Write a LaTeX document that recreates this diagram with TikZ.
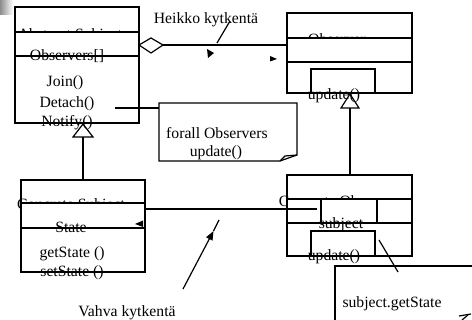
\documentclass[tikz,border=0pt]{standalone}
\usepackage{fontspec}
\setmainfont{Liberation Serif}
\usetikzlibrary{arrows.meta}
\begin{document}
\begin{tikzpicture}[x=1pt,y=-1pt,
  lbl/.style={inner sep=0pt, anchor=base, font=\fontsize{15.7}{18}\selectfont},
  box/.style={draw, line width=1.2pt},
  wbox/.style={draw, fill=white, line width=1.2pt},
  ln/.style={line width=1.2pt},
  tip/.style={fill=black}]
\useasboundingbox (0,0) rectangle (472,320);
\clip (0,0) rectangle (472,320);
\shade[left color=black!45, right color=white] (0,0) rectangle (13,15);

% Abstract Subject
\draw[box] (15,7) rectangle (139,32);
\node[lbl] (asname) at (70,39.5) {Abstract Subject};
\draw[wbox] (15,32) rectangle (139,56);
\draw[wbox] (15,56) rectangle (139,123);
\node[lbl] (asobs) at (67,61) {Observers[]};
\node[lbl] (asjoin) at (65,87) {Join()};
\node[lbl] (asdet) at (67,108) {Detach()};
\node[lbl] (asnot) at (67,127) {Notify()};

% Observer
\draw[box] (287,13) rectangle (412,38);
\node[lbl] (obname) at (337,45) {Observer};
\draw[wbox] (287,38) rectangle (412,62);
\draw[wbox] (287,62) rectangle (412,93);
\draw[box] (311,69) rectangle (375,93);
\node[lbl] (obupd) at (334,100) {update()};

% Concrete Subject
\draw[box] (21,180) rectangle (145,203);
\node[lbl] (csname) at (71,210) {Concrete Subject};
\draw[wbox] (21,203) rectangle (145,228);
\draw[wbox] (21,228) rectangle (145,272);
\node[lbl] (csstate) at (71,233) {State};
\node[lbl] (csget) at (72,258) {getState ()};
\node[lbl] (csset) at (72,277) {setState ()};
\fill[tip] (135,224) -- (143,220.5) -- (143,227) -- cycle;

% Concrete Observer
\draw[box] (287,175) rectangle (412,199);
\node[lbl] (coname) at (338,206.5) {Concrete Observer};
\draw[wbox] (287,199) rectangle (412,223);
\draw[wbox] (287,223) rectangle (412,256);
\draw[box] (321,199) rectangle (377,223);
\draw[box] (311,231) rectangle (375,256);
\node[lbl] (cosub) at (341,229) {subject};
\node[lbl] (coupd) at (334,261) {update()};

% note 1
\coordinate (n1a) at (159,103);
\draw[ln] (n1a) -- (297,103) -- (297,155) -- (280,161) -- (159,161) -- cycle;
\draw[ln] (280,161) -- (285,156) -- (297,155);
\node[lbl] (n1t1) at (217,139) {forall Observers};
\node[lbl] (n1t2) at (216,157) {update()};

% note 2
\draw[ln] (335,330) -- (335,266) -- (480,266);
\node[lbl] (n2t) at (392,307.5) {subject.getState};
\draw[ln] (459,316) -- (471,314);
\draw[ln] (468,315) -- (462,320);

% inheritance
\draw[ln] (83,124) -- (73,137) -- (93,137) -- cycle;
\draw[ln] (83,137) -- (83,180);
\draw[ln] (350,94) -- (341,108) -- (359,108) -- cycle;
\draw[ln] (350,108) -- (350,175);

% aggregation
\coordinate (dl) at (139,45);
\coordinate (dr) at (163,45);
\draw[ln] (dl) -- (151,38) -- (dr) -- (151,53) -- cycle;
\coordinate (obl) at (287,45);
\draw[ln] (dr) -- (obl);
\fill[tip] (207,49) -- (214,53) -- (208,58) -- cycle;
\fill[tip] (270,56) -- (277,59) -- (270,61.5) -- cycle;

% Heikko label
\node[lbl] (heikko) at (206,24) {Heikko kytkentä};
\coordinate (hp1) at (230,21);
\coordinate (hp2) at (217,43);
\draw[ln] (hp1) -- (hp2);

% Detach to note
\coordinate (detr) at (115,108);
\coordinate (n1l) at (159,108);
\draw[ln] (detr) -- (n1l);

% Concrete subject to observer
\coordinate (csr) at (145,209);
\coordinate (coin) at (317,209);
\draw[ln] (csr) -- (coin);

% update to note 2
\coordinate (u1) at (379,240);
\coordinate (u2) at (398,272);
\draw[ln] (u1) -- (u2);

% Vahva
\node[lbl] (vahva) at (127,317) {Vahva kytkentä};
\coordinate (v1) at (183,289);
\coordinate (vm) at (213.5,231);
\coordinate (v2) at (219,220);
\draw[ln, -{Triangle[length=9pt,width=7pt]}] (v1) -- (vm);
\draw[ln] (vm) -- (v2);
\end{tikzpicture}
\end{document}
